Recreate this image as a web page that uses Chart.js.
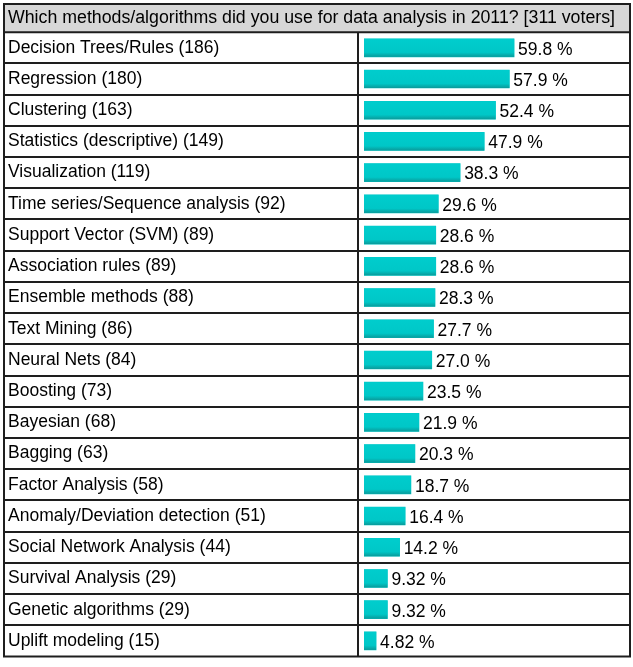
<!DOCTYPE html>
<html>
<head>
<meta charset="utf-8">
<script src="https://cdn.jsdelivr.net/npm/chart.js@4/dist/chart.umd.min.js"></script>
<style>
  html, body { margin: 0; padding: 0; background: #fff; }
  #wrap { width: 633px; height: 667px; }
</style>
</head>
<body>
<div id="wrap"><canvas id="c" width="633" height="667"></canvas></div>
<script>
const titleText = "Which methods/algorithms did you use for data analysis in 2011? [311 voters]";
const methods = ["Decision Trees/Rules", "Regression", "Clustering", "Statistics (descriptive)", "Visualization",
  "Time series/Sequence analysis", "Support Vector (SVM)", "Association rules", "Ensemble methods", "Text Mining",
  "Neural Nets", "Boosting", "Bayesian", "Bagging", "Factor Analysis", "Anomaly/Deviation detection",
  "Social Network Analysis", "Survival Analysis", "Genetic algorithms", "Uplift modeling"];
const voteCounts = [186, 180, 163, 149, 119, 92, 89, 89, 88, 86, 84, 73, 68, 63, 58, 51, 44, 29, 29, 15];
const percents = [59.8, 57.9, 52.4, 47.9, 38.3, 29.6, 28.6, 28.6, 28.3, 27.7, 27.0, 23.5, 21.9, 20.3, 18.7, 16.4, 14.2, 9.32, 9.32, 4.82];

const rowLabels = methods.map((m, i) => m + " (" + voteCounts[i] + ")");
const FONT = "'Liberation Sans', Arial, sans-serif";

const tablePlugin = {
  id: 'tableFrame',
  beforeDraw(chart) {
    const { ctx, chartArea: ca } = chart;
    ctx.save();
    ctx.fillStyle = '#ffffff';
    ctx.fillRect(0, 0, chart.width, chart.height);
    ctx.fillStyle = '#d7d7d7';
    ctx.fillRect(4, 4, 626, ca.top - 4);
    ctx.restore();
  },
  afterDatasetsDraw(chart) {
    const { ctx } = chart;
    const meta = chart.getDatasetMeta(0);
    ctx.save();
    meta.data.forEach((el, i) => {
      const top = el.y - el.height / 2;
      const g = ctx.createLinearGradient(0, top, 0, top + el.height);
      g.addColorStop(0, '#00cdcd');
      g.addColorStop(0.75, '#00c7c7');
      g.addColorStop(1, '#0a9a9a');
      ctx.fillStyle = g;
      ctx.fillRect(el.base, top, el.x - el.base, el.height);
      ctx.fillStyle = '#000';
      ctx.font = '17.5px ' + FONT;
      ctx.textAlign = 'left';
      ctx.textBaseline = 'middle';
      ctx.fillText(percents[i].toPrecision(3) + ' %', el.x + 4, el.y + 2);
    });
    ctx.restore();
  },
  afterDraw(chart) {
    const { ctx, chartArea: ca, scales: { y } } = chart;
    const band = y.getPixelForValue(1) - y.getPixelForValue(0);
    ctx.save();
    ctx.strokeStyle = '#1e1e1e';
    ctx.lineWidth = 2;
    ctx.beginPath();
    ctx.moveTo(4, ca.top); ctx.lineTo(630, ca.top);
    for (let i = 0; i < methods.length - 1; i++) {
      const yy = Math.round(y.getPixelForValue(i) + band / 2);
      ctx.moveTo(4, yy); ctx.lineTo(630, yy);
    }
    ctx.moveTo(ca.left - 6, ca.top); ctx.lineTo(ca.left - 6, ca.bottom);
    ctx.stroke();
    ctx.strokeRect(4, 4, 626, ca.bottom - 4);
    ctx.restore();
  }
};

new Chart(document.getElementById('c'), {
  type: 'bar',
  data: {
    labels: rowLabels,
    datasets: [{
      data: percents,
      backgroundColor: '#00c6c6',
      borderWidth: 0,
      barThickness: 18
    }]
  },
  options: {
    indexAxis: 'y',
    responsive: false,
    animation: false,
    events: [],
    layout: { padding: { top: 3, left: 8, right: 18, bottom: 6 } },
    plugins: {
      legend: { display: false },
      tooltip: { enabled: false },
      title: {
        display: true,
        text: titleText,
        align: 'start',
        color: '#000',
        font: { size: 18, family: FONT, weight: 'normal', lineHeight: 1.1 },
        padding: { top: 5, bottom: 4.4 }
      }
    },
    scales: {
      x: { display: false, min: 0, max: 100 },
      y: {
        border: { display: false },
        grid: { display: false },
        afterFit(scale) { scale.width = 356; },
        ticks: {
          autoSkip: false,
          crossAlign: 'far',
          color: '#000',
          padding: 0,
          font: { size: 17.5, family: FONT }
        }
      }
    }
  },
  plugins: [tablePlugin]
});
</script>
</body>
</html>
